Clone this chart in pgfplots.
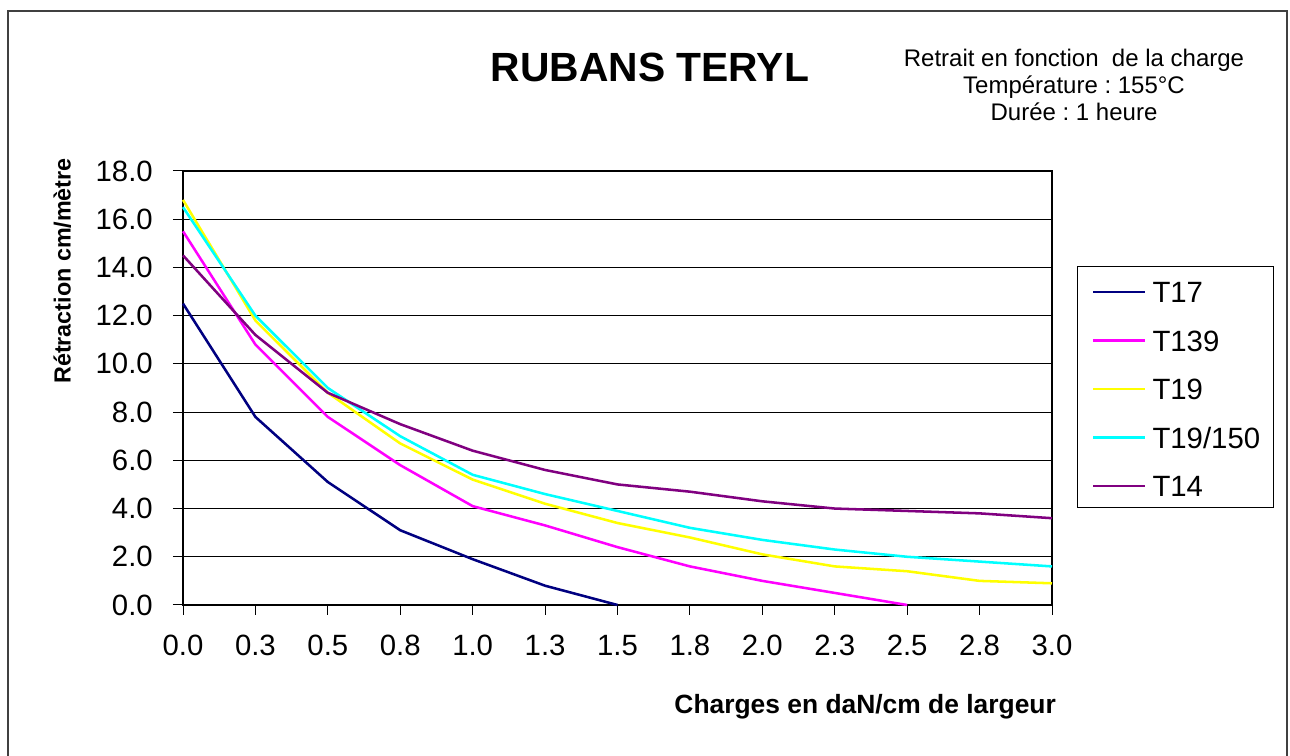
\documentclass[border=0pt]{standalone}
\usepackage{pgfplots}
\pgfplotsset{compat=1.18}
\usepackage{fontspec}
\setmainfont{Liberation Sans}
\frenchspacing
\definecolor{cT17}{RGB}{0,0,128}
\definecolor{cT139}{RGB}{255,0,255}
\definecolor{cT19}{RGB}{255,255,0}
\definecolor{cT19b}{RGB}{0,255,255}
\definecolor{cT14}{RGB}{128,0,128}
\begin{document}
\begin{tikzpicture}
\useasboundingbox (0,0) rectangle (967.5pt,567pt);
\begin{scope}[x=0.75pt,y=-0.75pt,shift={(0pt,567pt)}]
\draw[black!75,line width=1.2pt] (8,760) -- (8,11) -- (1287,11) -- (1287,760);
\draw[black,line width=0.75pt] (1077,267) rectangle (1273,508);
\node[font=\fontsize{30.6}{36}\bfseries\selectfont] at (650,67) {RUBANS TERYL};
\node[anchor=base,font=\fontsize{18}{21}\selectfont] at (1074,66.6) {Retrait en fonction~ de la charge};
\node[anchor=base,font=\fontsize{18}{21}\selectfont] at (1074,93.6) {Température : 155°C};
\node[anchor=base,font=\fontsize{18}{21}\selectfont] at (1074,120.6) {Durée : 1 heure};
\end{scope}
\begin{axis}[
  at={(137.25pt,113.25pt)}, anchor=south west,
  scale only axis, width=651.75pt, height=325.5pt,
  xmin=0, xmax=12, ymin=0, ymax=18,
  xtick={0,...,12},
  xticklabels={0.0,0.3,0.5,0.8,1.0,1.3,1.5,1.8,2.0,2.3,2.5,2.8,3.0},
  ytick={0,2,...,18},
  /pgf/number format/assume math mode=true,
  /pgf/number format/fixed,
  /pgf/number format/fixed zerofill,
  /pgf/number format/precision=1,
  tick label style={font=\fontsize{22}{26}\selectfont},
  xticklabel style={anchor=north, inner sep=0pt, yshift=-15pt},
  yticklabel style={anchor=east, inner sep=0pt, xshift=-15pt},
  ymajorgrids, grid style={black, line width=0.75pt},
  axis line style={black, line width=1.5pt},
  tick style={black, line width=0.75pt},
  major tick length=7.5pt, tick align=outside,
  xtick pos=left, ytick pos=left,
  clip=false,
  xlabel={Charges en daN/cm de largeur},
  ylabel={Rétraction cm/mètre},
  xlabel style={at={(axis description cs:0.785,-0.235)}, anchor=center, font=\fontsize{19.8}{23}\bfseries\selectfont},
  ylabel style={at={(axis description cs:-0.139,0.7696)}, anchor=center, font=\fontsize{17.5}{20}\bfseries\selectfont},
  legend cell align=left,
  legend image code/.code={\draw[#1] (0pt,0pt) -- (39pt,0pt);},
  legend style={at={(rel axis cs:1.0460,0.7458)}, anchor=north west, draw=none, fill=none,
    inner sep=0pt, outer sep=0pt, row sep=20.4pt, column sep=4.5pt,
    font=\fontsize{22}{26}\selectfont,
    nodes={inner sep=0pt, outer sep=0pt, text height=16pt, text depth=0pt, anchor=west}},
  every axis plot/.append style={line width=1.9pt, line join=round},
]
\addplot[cT17] coordinates {(0,12.5) (1,7.8) (2,5.1) (3,3.1) (4,1.9) (5,0.8) (6,0.0)};
\addlegendentry{T17}
\addplot[cT139] coordinates {(0,15.5) (1,10.8) (2,7.8) (3,5.8) (4,4.1) (5,3.3) (6,2.4) (7,1.6) (8,1.0) (9,0.5) (10,0.0)};
\addlegendentry{T139}
\addplot[cT19] coordinates {(0,16.8) (1,11.8) (2,8.8) (3,6.7) (4,5.2) (5,4.2) (6,3.4) (7,2.8) (8,2.1) (9,1.6) (10,1.4) (11,1.0) (12,0.9)};
\addlegendentry{T19}
\addplot[cT19b] coordinates {(0,16.5) (1,12.0) (2,9.0) (3,7.0) (4,5.4) (5,4.6) (6,3.9) (7,3.2) (8,2.7) (9,2.3) (10,2.0) (11,1.8) (12,1.6)};
\addlegendentry{T19/150}
\addplot[cT14] coordinates {(0,14.5) (1,11.2) (2,8.8) (3,7.5) (4,6.4) (5,5.6) (6,5.0) (7,4.7) (8,4.3) (9,4.0) (10,3.9) (11,3.8) (12,3.6)};
\addlegendentry{T14}
\end{axis}
\end{tikzpicture}
\end{document}
